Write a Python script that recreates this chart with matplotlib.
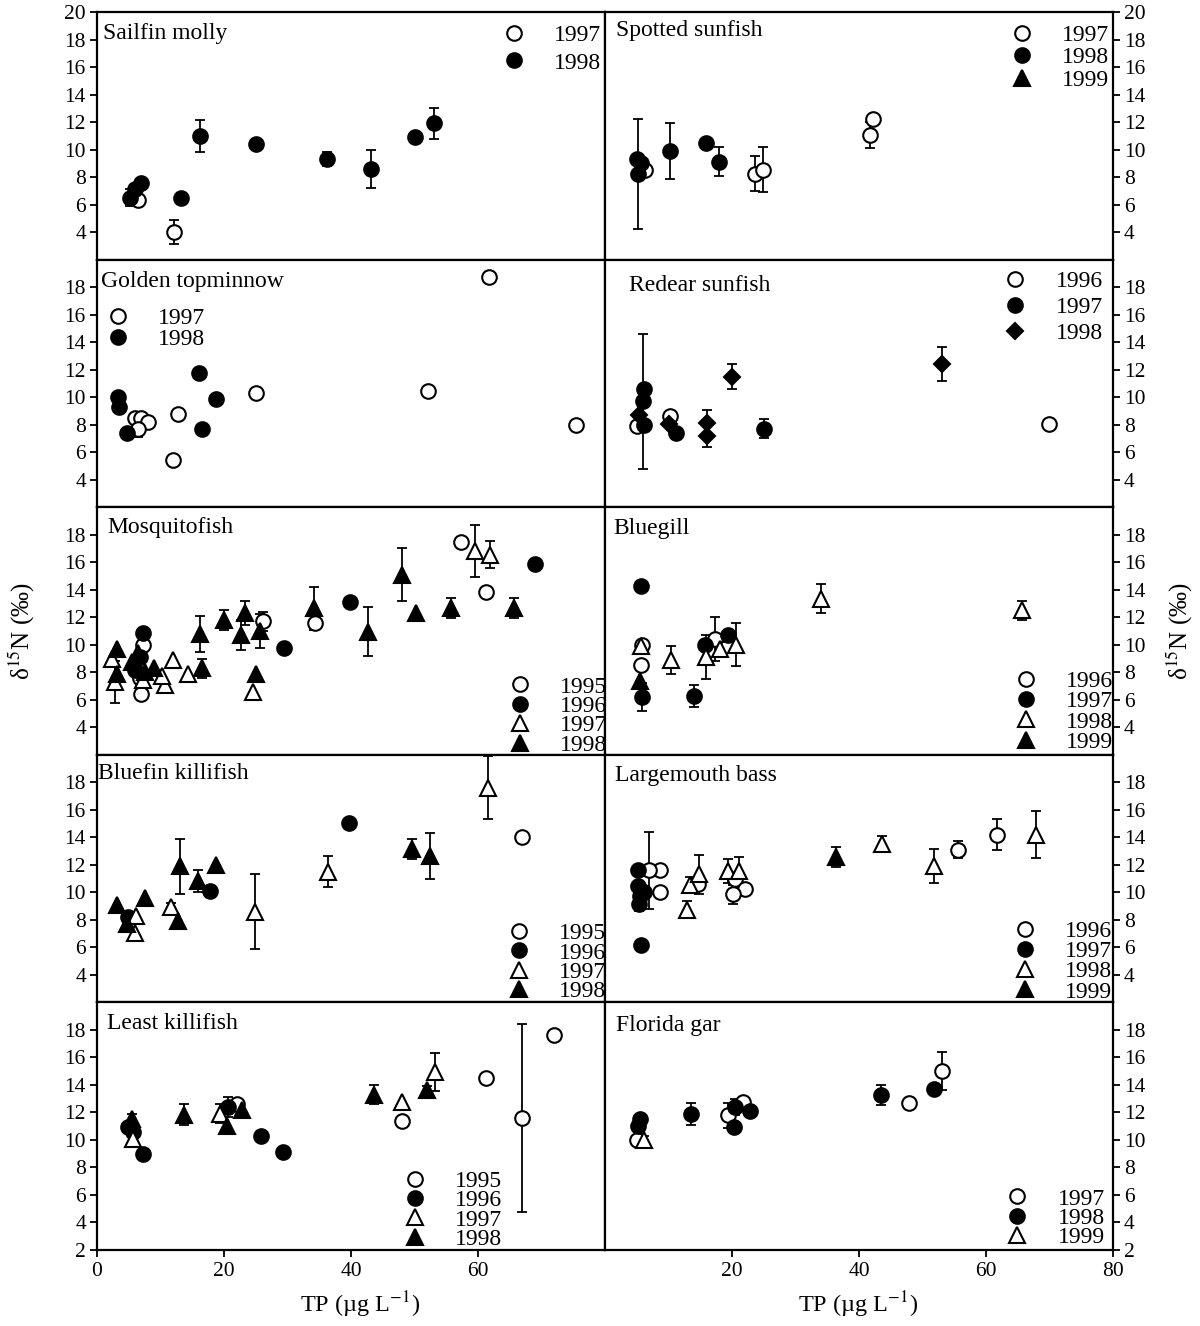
import numpy as np
import matplotlib
matplotlib.use('Agg')
import matplotlib.pyplot as plt
from matplotlib.lines import Line2D

plt.rcParams['font.family'] = ['Liberation Serif', 'DejaVu Serif']
plt.rcParams['mathtext.fontset'] = 'stix'

# ---------------- data (TP in ug/L, d15N in permil, SE) ----------------
sailfin_year = [1997, 1997, 1998, 1998, 1998, 1998, 1998, 1998, 1998, 1998, 1998, 1998]
sailfin_tp   = [6.5, 12.1, 5.2, 6.0, 7.0, 13.2, 16.2, 25.1, 36.2, 43.1, 50.1, 53.1]
sailfin_d15n = [6.3, 4.0, 6.5, 7.1, 7.6, 6.5, 11.0, 10.4, 9.3, 8.6, 10.9, 11.9]
sailfin_se   = [0, 0.85, 0.6, 0, 0, 0, 1.15, 0, 0.5, 1.4, 0, 1.1]
sailfin_years = [1997, 1998]

spotted_year = [1997, 1997, 1997, 1997, 1997, 1998, 1998, 1998, 1998, 1998, 1998]
spotted_tp   = [6.3, 23.6, 24.9, 41.7, 42.2, 5.0, 5.6, 5.2, 10.2, 15.9, 17.9]
spotted_d15n = [8.5, 8.25, 8.55, 11.05, 12.2, 9.3, 9.0, 8.2, 9.9, 10.5, 9.1]
spotted_se   = [0, 1.25, 1.6, 0.95, 0, 0, 0, 4.0, 2.05, 0, 1.05]
spotted_years = [1997, 1998, 1999]

golden_year = [1997] * 10 + [1998] * 6
golden_tp   = [61.8, 25.0, 52.1, 75.5, 12.8, 6.0, 6.9, 8.1, 6.4, 11.9,
               16.0, 3.25, 3.4, 18.8, 4.7, 16.5]
golden_d15n = [18.7, 10.3, 10.45, 7.95, 8.75, 8.5, 8.5, 8.2, 7.7, 5.45,
               11.75, 10.0, 9.3, 9.9, 7.4, 7.7]
golden_se   = [0, 0, 0, 0, 0, 0.3, 0, 0, 0.6, 0.3,
               0, 0, 0, 0, 0, 0]
golden_years = [1997, 1998]

redear_year = [1996] * 3 + [1997] * 5 + [1998] * 6
redear_tp   = [5.0, 10.2, 69.9,
               6.1, 6.0, 6.2, 11.2, 25.0,
               5.3, 10.1, 16.1, 16.1, 20.05, 53.0]
redear_d15n = [7.9, 8.65, 8.05,
               10.6, 9.7, 8.0, 7.4, 7.7,
               8.7, 8.05, 8.15, 7.15, 11.5, 12.4]
redear_se   = [0, 0, 0.3,
               0, 4.9, 0, 0, 0.7,
               0, 0, 0.95, 0.8, 0.93, 1.25]
redear_years = [1996, 1997, 1998]

mosq_year = [1995] * 7 + [1996] * 6 + [1997] * 10 + [1998] * 19
mosq_tp   = [57.3, 61.2, 34.3, 26.2, 7.3, 7.0, 6.8,
             68.9, 39.8, 29.5, 7.2, 6.0, 6.8,
             59.5, 61.9, 24.5, 14.4, 12.0, 10.7, 10.2, 2.3, 2.9, 7.3,
             48.1, 50.2, 55.7, 65.6, 42.7, 34.1, 20.05, 23.3, 22.7, 25.7,
             25.0, 16.2, 16.6, 3.1, 3.1, 5.5, 6.5, 7.6, 8.9]
mosq_d15n = [17.45, 13.8, 11.55, 11.7, 10.0, 6.45, 7.55,
             15.85, 13.1, 9.8, 10.85, 8.15, 9.1,
             16.8, 16.55, 6.6, 7.9, 8.9, 7.1, 7.7, 9.0, 7.3, 7.45,
             15.1, 12.3, 12.65, 12.7, 10.95, 12.65, 11.8, 12.3, 10.7, 11.0,
             7.9, 10.8, 8.3, 9.7, 7.9, 8.75, 9.4, 8.05, 8.3]
mosq_se   = [0.4, 0, 0, 0.7, 0, 0, 0,
             0, 0, 0, 0, 0, 0,
             1.9, 1.0, 0, 0, 0, 0, 0, 0, 1.5, 0,
             1.95, 0, 0.72, 0.72, 1.8, 1.57, 0.73, 0.9, 1.1, 1.2,
             0, 1.3, 0.7, 0, 0, 0, 0, 0, 0]
mosq_years = [1995, 1996, 1997, 1998]

bluegill_year = [1996] * 3 + [1997] * 5 + [1998] * 7 + [1999]
bluegill_tp   = [5.9, 5.6, 17.3,
                 5.7, 5.9, 13.95, 15.7, 19.4,
                 34.0, 65.6, 5.6, 10.4, 15.9, 18.1, 20.6,
                 5.5]
bluegill_d15n = [10.0, 8.55, 10.45,
                 14.25, 6.2, 6.3, 10.0, 10.7,
                 13.35, 12.5, 9.9, 8.9, 9.1, 9.7, 10.0,
                 7.4]
bluegill_se   = [0, 0.3, 1.6,
                 0, 1.05, 0.8, 0, 0,
                 1.07, 0.7, 0, 1.0, 1.6, 0.5, 1.57,
                 0]
bluegill_years = [1996, 1997, 1998, 1999]

bluefin_year = [1995] + [1996] * 3 + [1997] * 6 + [1998] * 9
bluefin_tp   = [67.0,
                39.7, 17.8, 4.9,
                61.6, 36.3, 24.9, 6.2, 6.0, 11.65,
                49.6, 52.5, 18.7, 13.1, 15.9, 7.5, 3.1, 4.7, 12.8]
bluefin_d15n = [14.0,
                15.05, 10.1, 8.2,
                17.6, 11.5, 8.6, 8.3, 7.05, 8.9,
                13.15, 12.65, 12.0, 11.9, 10.8, 9.6, 9.05, 7.7, 7.95]
bluefin_se   = [0,
                0, 0, 0,
                2.3, 1.13, 2.7, 0, 0, 0.3,
                0.7, 1.7, 0, 2.0, 0.8, 0, 0, 0, 0]
bluefin_years = [1995, 1996, 1997, 1998]

bass_year = [1996] * 9 + [1997] * 6 + [1998] * 8 + [1999]
bass_tp   = [61.8, 55.6, 8.6, 7.0, 8.6, 14.6, 20.4, 22.0, 20.2,
             5.6, 5.2, 5.2, 5.5, 6.2, 5.35,
             67.9, 51.8, 43.7, 12.9, 13.4, 14.8, 19.4, 21.1,
             36.4]
bass_d15n = [14.2, 13.1, 11.65, 11.6, 10.0, 10.6, 10.95, 10.25, 9.85,
             6.15, 11.65, 10.45, 9.75, 10.0, 9.15,
             14.2, 11.9, 13.5, 8.75, 10.55, 11.3, 11.55, 11.55,
             12.6]
bass_se   = [1.15, 0.6, 0, 2.8, 0.4, 0, 0, 0, 0.7,
             0, 0, 0, 0, 0, 0.5,
             1.73, 1.23, 0.6, 0.63, 0.6, 1.4, 0.9, 1.0,
             0.73]
bass_years = [1996, 1997, 1998, 1999]

least_year = [1995] * 5 + [1996] * 6 + [1997] * 4 + [1998] * 6
least_tp   = [72.0, 67.0, 61.2, 48.1, 22.0,
              29.3, 25.8, 20.6, 4.9, 5.7, 7.2,
              53.2, 48.0, 19.4, 5.7,
              51.9, 43.7, 22.8, 20.4, 13.75, 5.5]
least_d15n = [17.65, 11.6, 14.5, 11.4, 12.6,
              9.15, 10.3, 12.4, 10.95, 10.6, 8.95,
              14.95, 12.75, 11.9, 10.1,
              13.65, 13.3, 12.15, 11.0, 11.85, 11.5]
least_se   = [0, 6.82, 0, 0, 0,
              0, 0, 0.7, 0, 0, 0,
              1.36, 0, 0.7, 0.4,
              0.3, 0.7, 0, 0, 0.78, 0.4]
least_years = [1995, 1996, 1997, 1998]

gar_year = [1997] * 5 + [1998] * 8 + [1999]
gar_tp   = [53.1, 47.8, 21.7, 19.4, 5.0,
            51.8, 43.5, 22.9, 20.4, 20.3, 13.6, 5.2, 5.5,
            6.2]
gar_d15n = [15.0, 12.7, 12.75, 11.8, 10.0,
            13.7, 13.3, 12.1, 12.4, 10.95, 11.9, 11.05, 11.5,
            10.0]
gar_se   = [1.36, 0, 0.3, 0.9, 0.3,
            0, 0.73, 0, 0.6, 0, 0.78, 0, 0,
            0.3]
gar_years = [1997, 1998, 1999]

panel_names = ['Sailfin molly', 'Spotted sunfish', 'Golden topminnow', 'Redear sunfish',
               'Mosquitofish', 'Bluegill', 'Bluefin killifish', 'Largemouth bass',
               'Least killifish', 'Florida gar']

y_ticks_top = [4, 6, 8, 10, 12, 14, 16, 18, 20]
y_ticks_mid = [4, 6, 8, 10, 12, 14, 16, 18]
y_ticks_bot = [2, 4, 6, 8, 10, 12, 14, 16, 18]
x_ticks_left = [0, 20, 40, 60]
x_ticks_right = [20, 40, 60, 80]

# ---------------- styles ----------------
OC = dict(marker='o', mfc='white', mec='k', ms=10.5)
FC = dict(marker='o', mfc='k', mec='k', ms=10.5)
OT = dict(marker='^', mfc='white', mec='k', ms=11)
FT = dict(marker='^', mfc='k', mec='k', ms=11)
FD = dict(marker='D', mfc='k', mec='k', ms=8.5)

panels = [
    (sailfin_year, sailfin_tp, sailfin_d15n, sailfin_se, sailfin_years, [OC, FC]),
    (spotted_year, spotted_tp, spotted_d15n, spotted_se, spotted_years, [OC, FC, FT]),
    (golden_year, golden_tp, golden_d15n, golden_se, golden_years, [OC, FC]),
    (redear_year, redear_tp, redear_d15n, redear_se, redear_years, [OC, FC, FD]),
    (mosq_year, mosq_tp, mosq_d15n, mosq_se, mosq_years, [OC, FC, OT, FT]),
    (bluegill_year, bluegill_tp, bluegill_d15n, bluegill_se, bluegill_years, [OC, FC, OT, FT]),
    (bluefin_year, bluefin_tp, bluefin_d15n, bluefin_se, bluefin_years, [OC, FC, OT, FT]),
    (bass_year, bass_tp, bass_d15n, bass_se, bass_years, [OC, FC, OT, FT]),
    (least_year, least_tp, least_d15n, least_se, least_years, [OC, FC, OT, FT]),
    (gar_year, gar_tp, gar_d15n, gar_se, gar_years, [OC, FC, OT]),
]

# layout: title offsets (px from left, px from top), legend (marker x frac, first marker y frac, row spacing px)
title_pos = [(6, 11), (11, 8), (4, 11), (24, 15), (10, 10), (8, 11), (1.5, 8), (10, 10), (10, 11), (11, 13)]
legend_pos = [(0.821, 0.917, 28), (0.821, 0.917, 22.8), (0.041, 0.772, 21), (0.808, 0.921, 25.8),
              (0.833, 0.284, 19.5), (0.828, 0.306, 20.3), (0.831, 0.288, 19.4), (0.826, 0.298, 20.4),
              (0.626, 0.288, 19.4), (0.812, 0.217, 19.5)]

W, H = 1200, 1326
fig = plt.figure(figsize=(W / 100, H / 100), dpi=100)
L, R, T, B = 97, 1113, 12, 1250
gs = fig.add_gridspec(5, 2, left=L / W, right=R / W, top=1 - T / H, bottom=1 - B / H,
                      wspace=0, hspace=0)
ax_w = (R - L) / 2
ax_h = (B - T) / 5

FS_LEG = 17
fs_px = FS_LEG * 100 / 72
MEW = 1.5

for i, (yr, tp, dn, se, years, styles) in enumerate(panels):
    row, col = divmod(i, 2)
    ax = fig.add_subplot(gs[row, col])
    yr = np.array(yr); tp = np.array(tp, float); dn = np.array(dn, float); se = np.array(se, float)
    handles = []
    for y, st in zip(years, styles):
        m = yr == y
        eb = m & (se > 0)
        if eb.any():
            ax.errorbar(tp[eb], dn[eb], yerr=se[eb], fmt='none', ecolor='k',
                        elinewidth=1.3, capsize=3.5, capthick=1.3, zorder=2)
        if m.any():
            ax.plot(tp[m], dn[m], ls='none', mew=MEW, zorder=3, **st)
        handles.append(Line2D([], [], ls='none', mew=MEW, label=str(y), **st))

    ax.set_xlim(0, 80)
    ax.set_ylim(2, 20)
    for s in ax.spines.values():
        s.set_linewidth(1.6)
    if row == 0:
        yt = y_ticks_top
    elif row == 4:
        yt = y_ticks_bot
    else:
        yt = y_ticks_mid
    ax.set_yticks(yt)
    ax.set_xticks([0, 20, 40, 60, 80])
    if i == 3:
        ax.set_xticks([10, 30, 50, 70], minor=True)
    ax.tick_params(axis='both', which='both', direction='out', length=5, width=1.3,
                   labelsize=15.5, pad=3)
    if col == 1:
        ax.yaxis.tick_right()
    if row == 4:
        if col == 0:
            ax.set_xticks(x_ticks_left)
        else:
            ax.set_xticks(x_ticks_right)
        ax.tick_params(axis='x', labelsize=15.5, pad=4)
    else:
        ax.tick_params(axis='x', labelbottom=False)

    tx, ty = title_pos[i]
    ax.text(tx / ax_w, 1 - ty / ax_h, panel_names[i], transform=ax.transAxes,
            ha='left', va='top', fontsize=17)

    mx, my, sp = legend_pos[i]
    hl = 1.0
    xa = mx - (hl * fs_px / 2) / ax_w
    ya = my + (0.35 * fs_px) / ax_h
    lsp = (sp - 0.917 * fs_px) / fs_px
    leg = ax.legend(handles=handles, loc='upper left', bbox_to_anchor=(xa, ya),
                    frameon=False, fontsize=FS_LEG, handlelength=hl,
                    handletextpad=(40 - hl * fs_px / 2) / fs_px,
                    labelspacing=lsp, borderpad=0, borderaxespad=0, numpoints=1)
    for t in leg.get_texts():
        t.set_clip_box(ax.bbox)
        t.set_clip_on(True)

ylab = 'δ$^{15}$N (‰)'
fig.text(22 / W, 1 - 631 / H, ylab, rotation=90, ha='center', va='center', fontsize=18)
fig.text(1180 / W, 1 - 631 / H, ylab, rotation=90, ha='center', va='center', fontsize=18)
xlab = 'TP (µg L$^{-1}$)'
fig.text(360 / W, 1 - 1305 / H, xlab, ha='center', va='center', fontsize=17.5)
fig.text(858 / W, 1 - 1305 / H, xlab, ha='center', va='center', fontsize=17.5)

fig.savefig('out.png', dpi=100)
